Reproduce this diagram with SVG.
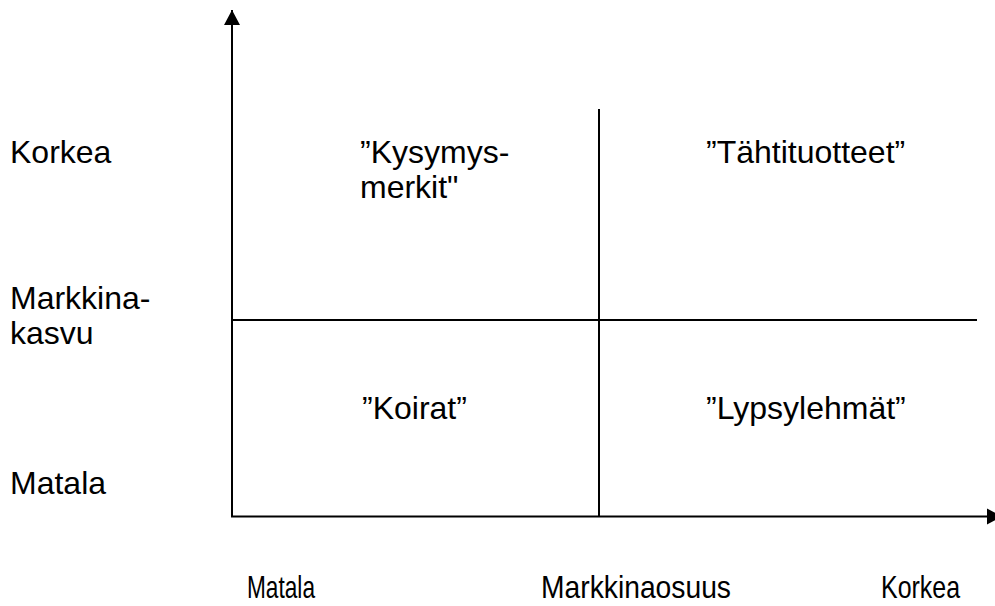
<svg xmlns="http://www.w3.org/2000/svg" width="995" height="606" viewBox="0 0 995 606">
<defs>
<marker id="arr" markerUnits="userSpaceOnUse" markerWidth="16" markerHeight="18" refX="15" refY="8" orient="auto" viewBox="0 0 16 16">
<path d="M0,0 L15,8 L0,16 Z" fill="#000"/>
</marker>
</defs>
<style>
text{font-family:"Liberation Sans",Arial,sans-serif;font-size:32px;fill:#000}
.ln{stroke:#000;stroke-width:2;fill:none}
</style>
<rect width="995" height="606" fill="#fff"/>
<g id="connectors">
<line class="ln" x1="232" y1="517" x2="232" y2="10" marker-end="url(#arr)"/>
<line class="ln" x1="231" y1="516.5" x2="1002" y2="516.5" marker-end="url(#arr)"/>
<line class="ln" x1="599" y1="109" x2="599" y2="516"/>
<line class="ln" x1="232" y1="320" x2="977" y2="320"/>
</g>
<g id="y-labels">
<text x="10" y="163">Korkea</text>
<text x="10" y="309">Markkina-</text>
<text x="10" y="344">kasvu</text>
<text x="10" y="494">Matala</text>
</g>
<g id="q-kysymysmerkit">
<text x="360" y="163">”Kysymys-</text>
<text x="360" y="198">merkit"</text>
</g>
<g id="q-tahtituotteet">
<text x="706" y="163">”Tähtituotteet”</text>
</g>
<g id="q-koirat">
<text x="362" y="419">”Koirat”</text>
</g>
<g id="q-lypsylehmat">
<text x="706" y="419">”Lypsylehmät”</text>
</g>
<g id="x-labels">
<text x="247" y="598" textLength="68" lengthAdjust="spacingAndGlyphs">Matala</text>
<text x="541" y="598" textLength="190" lengthAdjust="spacingAndGlyphs">Markkinaosuus</text>
<text x="881" y="598" textLength="79" lengthAdjust="spacingAndGlyphs">Korkea</text>
</g>
</svg>
